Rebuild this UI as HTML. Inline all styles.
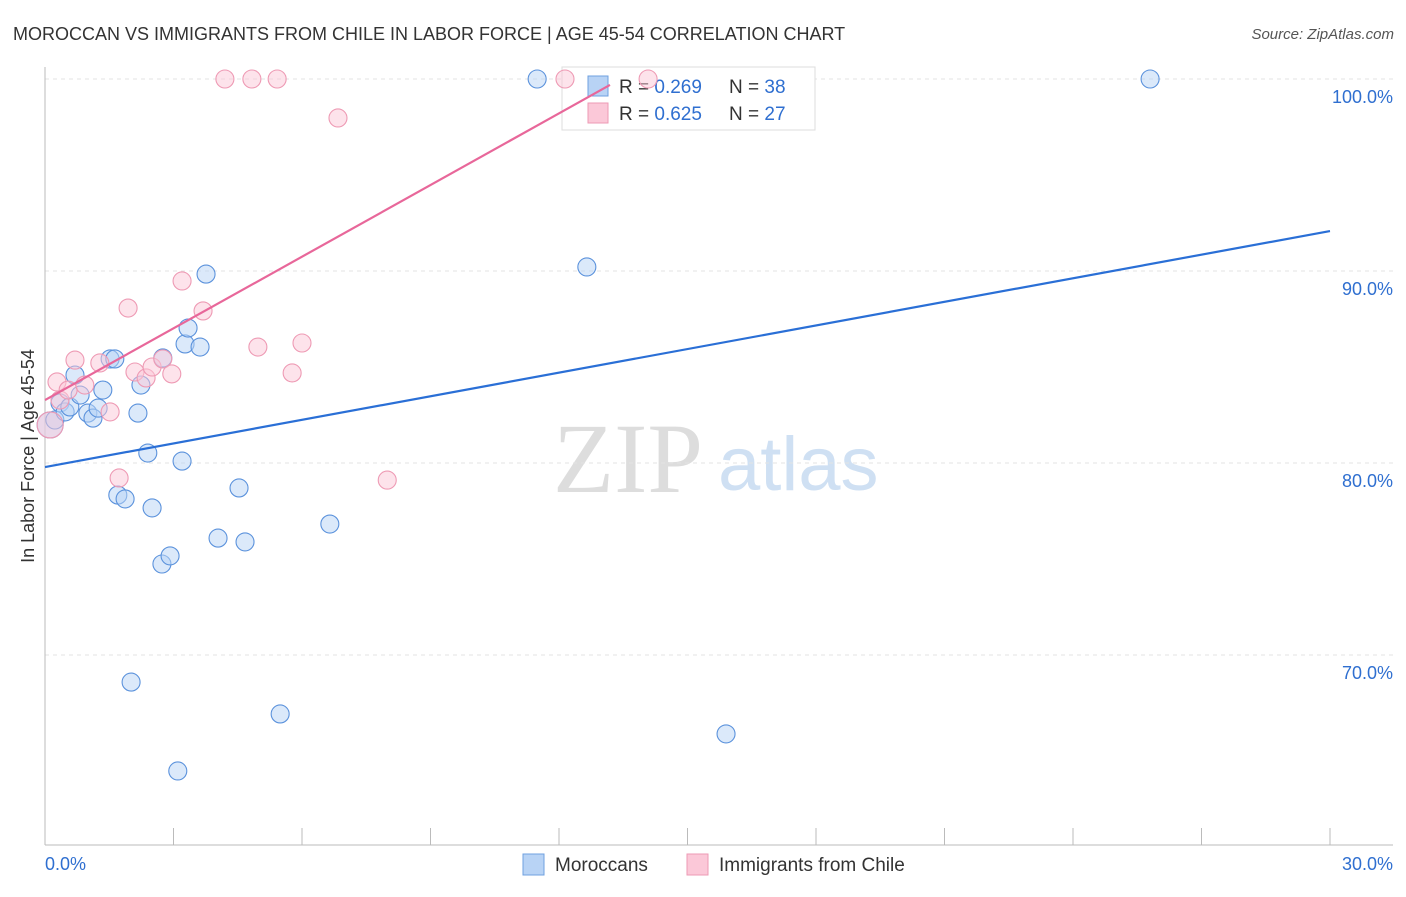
<!DOCTYPE html>
<html><head><meta charset="utf-8"><style>
body{margin:0;background:#fff;font-family:"Liberation Sans",sans-serif}
</style></head><body>
<svg id="c" width="1406" height="892" viewBox="0 0 1406 892" xmlns="http://www.w3.org/2000/svg">
<text x="13" y="40" font-size="18" fill="#333">MOROCCAN VS IMMIGRANTS FROM CHILE IN LABOR FORCE | AGE 45-54 CORRELATION CHART</text>
<text x="1394" y="39" font-size="15" fill="#555" font-style="italic" text-anchor="end">Source: ZipAtlas.com</text>
<text x="553" y="492" font-size="100" fill="#ddd" font-family="Liberation Serif,serif">ZIP</text>
<text x="718" y="490" font-size="76" fill="#cfe0f3">atlas</text>
<g id="grid"></g><g id="axes"></g>
<text transform="translate(34,456) rotate(-90)" font-size="18" fill="#333" text-anchor="middle">In Labor Force | Age 45-54</text>
<g>
<rect x="562" y="67" width="253" height="63" fill="#fff" stroke="#ddd"/>
<rect x="588" y="76" width="20" height="20" fill="#b8d3f5" stroke="#6fa0e0"/>
<rect x="588" y="103" width="20" height="20" fill="#fbc8d8" stroke="#ee9ab4"/>
<text x="619" y="93" font-size="19" fill="#333">R = <tspan fill="#2f6fd0">0.269</tspan></text>
<text x="729" y="93" font-size="19" fill="#333">N = <tspan fill="#2f6fd0">38</tspan></text>
<text x="619" y="120" font-size="19" fill="#333">R = <tspan fill="#2f6fd0">0.625</tspan></text>
<text x="729" y="120" font-size="19" fill="#333">N = <tspan fill="#2f6fd0">27</tspan></text>
</g>
<g id="marks"></g>
<g>
<rect x="523" y="854" width="21" height="21" fill="#b8d3f5" stroke="#6fa0e0"/>
<text x="555" y="871" font-size="19" fill="#333">Moroccans</text>
<rect x="687" y="854" width="21" height="21" fill="#fbc8d8" stroke="#ee9ab4"/>
<text x="719" y="871" font-size="19" fill="#333">Immigrants from Chile</text>
</g>
</svg>
<script>
const yTicks=[100,90,80,70];
const yTickLabels=["100.0%","90.0%","80.0%","70.0%"];
const blueX=[0.12,0.23,0.35,0.47,0.58,0.70,0.82,1.00,1.12,1.24,1.35,1.52,1.63,1.70,1.87,2.17,2.24,2.40,2.50,2.73,2.75,2.92,3.10,3.20,3.27,3.34,3.62,3.76,4.04,4.53,4.67,5.49,6.65,2.01,11.49,12.65,15.90,25.80];
const blueY=[81.98,82.24,83.13,82.66,82.92,84.58,83.54,82.60,82.34,82.86,83.80,85.42,85.42,78.33,78.13,82.60,84.06,80.52,77.66,74.74,85.47,75.16,63.96,80.10,86.20,87.03,86.04,89.84,76.09,78.70,75.89,66.93,76.82,68.59,100,90.21,65.89,100];
const pinkX=[0.12,0.28,0.35,0.54,0.70,0.93,1.28,1.52,1.73,1.94,2.10,2.36,2.50,2.75,2.96,3.20,3.69,4.20,4.83,4.97,5.42,5.77,6.00,6.84,7.99,12.14,14.08];
const pinkY=[81.98,84.22,83.28,83.80,85.36,84.06,85.21,82.66,79.22,88.07,84.74,84.43,85.00,85.42,84.64,89.48,87.92,100,100,86.04,100,84.69,86.25,97.97,79.11,100,100];
const blueTrend=[[0,79.79],[30,92.08]];
const pinkTrend=[[0,83.28],[13.19,99.69]];
const NS="http://www.w3.org/2000/svg";
const X=v=>45+v/30*1285, Y=v=>79+(100-v)*19.2;
function mk(t,a,p){const e=document.createElementNS(NS,t);for(const k in a)e.setAttribute(k,a[k]);document.getElementById(p).appendChild(e);return e;}
yTicks.forEach((t,i)=>{
 const l=mk('line',{x1:45,x2:1393,y1:Y(t),y2:Y(t),stroke:'#e3e3e3','stroke-dasharray':'4,4'},'grid');
 
 
 const tx=mk('text',{x:1393,y:Y(t)+24,'font-size':18,fill:'#2f6fd0','text-anchor':'end'},'grid');
 tx.textContent=yTickLabels[i];
 
 
});
let a=mk('line',{x1:45,x2:45,y1:67,y2:845,stroke:'#bbb'},'axes');


a=mk('line',{x1:45,x2:1393,y1:845,y2:845,stroke:'#bbb'},'axes');


for(let i=0;i<=10;i++){const t=mk('line',{x1:X(i*3),x2:X(i*3),y1:828,y2:845,stroke:'#bbb'},'axes');
 
 }
[[0,'0.0%','start',45],[30,'30.0%','end',1393]].forEach(d=>{const t=mk('text',{x:d[3],y:870,'font-size':18,fill:'#2f6fd0','text-anchor':d[2]},'axes');t.textContent=d[1];
 
 });
function pts(xs,ys,fill,stroke,name){xs.forEach((x,i)=>{const c=mk('circle',{cx:X(x),cy:Y(ys[i]),r:i==0?13:9,fill:fill,'fill-opacity':0.5,stroke:stroke,'stroke-width':1.1},'marks');
 
 });}
pts(blueX,blueY,'#b8d3f5','#5b92dc','point-moroccans');
pts(pinkX,pinkY,'#fbc8d8','#ee9ab4','point-chile');
let tl=mk('line',{x1:X(blueTrend[0][0]),y1:Y(blueTrend[0][1]),x2:X(blueTrend[1][0]),y2:Y(blueTrend[1][1]),stroke:'#2a6fd6','stroke-width':2.2},'marks');


tl=mk('line',{x1:X(pinkTrend[0][0]),y1:Y(pinkTrend[0][1]),x2:X(pinkTrend[1][0]),y2:Y(pinkTrend[1][1]),stroke:'#e8679a','stroke-width':2.2},'marks');


</script>
</body></html>
